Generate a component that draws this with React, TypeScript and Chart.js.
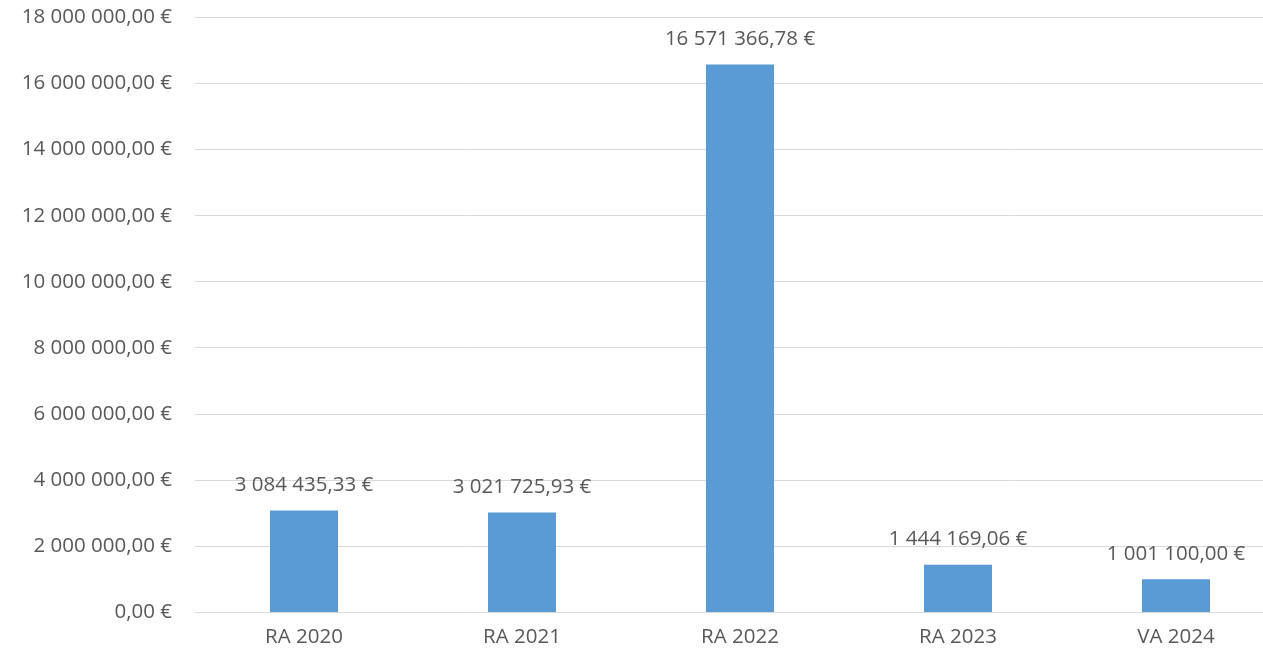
import React, { useEffect, useRef } from 'react';
import { Chart, registerables, Plugin } from 'chart.js';

Chart.register(...registerables);

// Values
const categories = ['RA 2020', 'RA 2021', 'RA 2022', 'RA 2023', 'VA 2024'];
const amounts = [3084435.33, 3021725.93, 16571366.78, 1444169.06, 1001100.0];
const yTicks = [0, 2000000, 4000000, 6000000, 8000000, 10000000, 12000000, 14000000, 16000000, 18000000];

const FONT = "'Open Sans', sans-serif";
const FONT_SIZE = 20.5;
const TEXT = '#595959';

// Format like "16 571 366,78 €"
const formatEuro = (value: number) => {
  const [int, dec] = value.toFixed(2).split('.');
  const grouped = int.replace(/\B(?=(\d{3})+(?!\d))/g, ' ');
  return `${grouped},${dec} €`;
};

// Draws the value above each bar
const valueLabels: Plugin<'bar'> = {
  id: 'valueLabels',
  afterDatasetsDraw(chart) {
    const ctx = chart.ctx;
    const meta = chart.getDatasetMeta(0);
    ctx.save();
    ctx.font = `${FONT_SIZE}px ${FONT}`;
    ctx.fillStyle = TEXT;
    ctx.textAlign = 'center';
    ctx.textBaseline = 'middle';
    meta.data.forEach((bar, i) => {
      ctx.fillText(formatEuro(amounts[i]), bar.x, bar.y - 25);
    });
    ctx.restore();
  },
};

const App: React.FC = () => {
  const canvasRef = useRef<HTMLCanvasElement | null>(null);
  const chartInstance = useRef<Chart | null>(null);

  useEffect(() => {
    if (!canvasRef.current) return;
    if (chartInstance.current) chartInstance.current.destroy();

    const ctx = canvasRef.current.getContext('2d');
    if (!ctx) return;

    chartInstance.current = new Chart(ctx, {
      type: 'bar',
      data: {
        labels: categories,
        datasets: [{
          data: amounts,
          backgroundColor: '#5B9BD5',
          borderWidth: 0,
          categoryPercentage: 1,
          barPercentage: 0.312,
        }],
      },
      options: {
        animation: false,
        responsive: false,
        maintainAspectRatio: false,
        layout: { padding: { top: 8, right: 0, bottom: 4, left: 0 } },
        scales: {
          x: {
            grid: { display: false, drawTicks: false },
            border: { display: true, color: '#D9D9D9', width: 1 },
            ticks: { color: TEXT, font: { family: FONT, size: FONT_SIZE }, padding: 12 },
          },
          y: {
            min: 0,
            max: 18000000,
            afterFit: (scale) => { scale.width = 195; },
            afterBuildTicks: (scale) => { scale.ticks = yTicks.map(v => ({ value: v })); },
            grid: { color: '#D9D9D9', lineWidth: 1, drawTicks: false },
            border: { display: false },
            ticks: {
              color: TEXT,
              font: { family: FONT, size: FONT_SIZE },
              padding: 23,
              callback: (v) => formatEuro(Number(v)),
            },
          },
        },
        plugins: {
          legend: { display: false },
          tooltip: { enabled: false },
        },
      },
      plugins: [valueLabels],
    });

    return () => {
      if (chartInstance.current) {
        chartInstance.current.destroy();
        chartInstance.current = null;
      }
    };
  }, []);

  return (
    <div style={{ position: 'fixed', left: 0, top: 0, width: 1263, height: 654, overflow: 'hidden', background: '#fff' }}>
      <canvas ref={canvasRef} width={1285} height={683} style={{ display: 'block', marginTop: -18 }} />
    </div>
  );
};

export default App;
